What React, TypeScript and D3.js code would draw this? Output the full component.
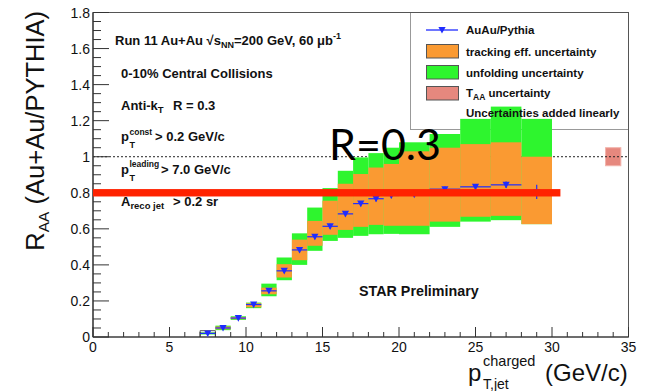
import React from "react";
import * as d3 from "d3";

const W = 652;
const H = 391;

// Jet pT bins (GeV/c)
const binLo = [7, 8, 9, 10, 11, 12, 13, 14, 15, 16, 17, 18, 19, 20, 22, 24, 26, 28];
const binHi = [8, 9, 10, 11, 12, 13, 14, 15, 16, 17, 18, 19, 20, 22, 24, 26, 28, 30];

// R_AA central values and statistical errors
const raa = [0.02, 0.05, 0.105, 0.18, 0.256, 0.367, 0.483, 0.556, 0.614, 0.683, 0.74, 0.767, 0.785, 0.79, 0.82, 0.833, 0.844, 0.805];
const statErr = [0.005, 0.006, 0.008, 0.01, 0.012, 0.012, 0.014, 0.014, 0.014, 0.014, 0.015, 0.015, 0.016, 0.012, 0.015, 0.015, 0.018, 0.04];

// tracking efficiency uncertainty band
const trackLo = [0.017, 0.043, 0.099, 0.165, 0.237, 0.33, 0.426, 0.506, 0.567, 0.594, 0.611, 0.622, 0.617, 0.617, 0.64, 0.667, 0.672, 0.626];
const trackHi = [0.023, 0.058, 0.111, 0.187, 0.274, 0.404, 0.54, 0.644, 0.756, 0.85, 0.904, 0.94, 0.96, 1.03, 1.05, 1.07, 1.08, 1.0];

// tracking + unfolding uncertainty band (added linearly)
const unfoldLo = [0.014, 0.038, 0.095, 0.16, 0.226, 0.315, 0.4, 0.478, 0.533, 0.55, 0.561, 0.57, 0.572, 0.57, 0.611, 0.64, 0.648, 0.626];
const unfoldHi = [0.026, 0.063, 0.115, 0.191, 0.296, 0.441, 0.575, 0.718, 0.826, 0.922, 0.996, 1.02, 1.05, 1.08, 1.126, 1.21, 1.278, 1.21];

// lowest-bin outline height
const firstBinOutline = 0.035;

// T_AA normalisation uncertainty box
const taaX = [33.5, 34.5];
const taaY = [0.95, 1.05];

// highlight bar at R_AA = 0.8
const highlightY = 0.8;
const highlightX = [0, 30.55];

// "STAR Preliminary" anchor in data coordinates
const prelimPos = [21.3, 0.23];

const xTicks = [0, 5, 10, 15, 20, 25, 30, 35];
const xTickLabels = ["0", "5", "10", "15", "20", "25", "30", "35"];
const yTicks = [0, 0.2, 0.4, 0.6, 0.8, 1.0, 1.2, 1.4, 1.6, 1.8];
const yTickLabels = ["0", "0.2", "0.4", "0.6", "0.8", "1", "1.2", "1.4", "1.6", "1.8"];

const GREEN = "#2ef52e";
const ORANGE = "#fa9a32";
const BLUE = "#1f2cff";
const SALMON = "#e6887e";
const RED = "#ff2200";
const AXIS = "#333";
const FONT = "'Liberation Sans', Arial, Helvetica, sans-serif";

export default function App() {
  const x = d3.scaleLinear().domain([0, 35]).range([93, 628.5]);
  const y = d3.scaleLinear().domain([0, 1.8]).range([337, 12.5]);

  const xMinor = d3.range(0, 35.001, 1);
  const yMinor = d3.range(0, 1.8001, 0.05);

  const bins = binLo.map((lo, i) => ({
    lo,
    hi: binHi[i],
    c: (lo + binHi[i]) / 2,
    v: raa[i],
    e: statErr[i],
    tLo: trackLo[i],
    tHi: trackHi[i],
    uLo: unfoldLo[i],
    uHi: unfoldHi[i],
  }));

  const marker = "M-3.6,-3 L3.6,-3 L0,3.6 Z";

  const legendRows = [
    { label: "tracking eff. uncertainty", fill: ORANGE },
    { label: "unfolding uncertainty", fill: GREEN },
  ];

  return (
    <svg
      width={W}
      height={H}
      viewBox={`0 0 ${W} ${H}`}
      style={{ position: "absolute", left: 0, top: 0, background: "#fff" }}
      fontFamily={FONT}
    >
      <rect x={0} y={0} width={W} height={H} fill="#fff" />

      {/* legend frame (entries drawn later, above the bands) */}
      <rect x={410.5} y={12.5} width={218} height={117} fill="none" stroke="#999" strokeWidth={1} />

      {/* T_AA box */}
      <rect
        x={x(taaX[0])}
        y={y(taaY[1])}
        width={x(taaX[1]) - x(taaX[0])}
        height={y(taaY[0]) - y(taaY[1])}
        fill={SALMON}
        stroke="#f2b3ab"
        strokeWidth={1}
      />

      {/* unity reference */}
      <line
        x1={x(0)}
        x2={x(35)}
        y1={y(1)}
        y2={y(1)}
        stroke="#222"
        strokeWidth={1}
        strokeDasharray="2,2"
      />

      {/* uncertainty bands */}
      {bins.map((b, i) => (
        <rect
          key={`u${i}`}
          x={x(b.lo)}
          y={y(b.uHi)}
          width={x(b.hi) - x(b.lo)}
          height={y(b.uLo) - y(b.uHi)}
          fill={GREEN}
        />
      ))}
      {bins.map((b, i) => (
        <rect
          key={`t${i}`}
          x={x(b.lo)}
          y={y(b.tHi)}
          width={x(b.hi) - x(b.lo)}
          height={y(b.tLo) - y(b.tHi)}
          fill={ORANGE}
        />
      ))}
      <path
        d={`M${x(binLo[0])},${y(0)} V${y(firstBinOutline)} H${x(binHi[0])} V${y(0)}`}
        fill="none"
        stroke="#555"
        strokeWidth={1}
      />

      {/* frame and axes */}
      <rect
        x={x(0)}
        y={y(1.8)}
        width={x(35) - x(0)}
        height={y(0) - y(1.8)}
        fill="none"
        stroke="#555"
        strokeWidth={1}
      />
      <line x1={x(0)} x2={x(0)} y1={y(0)} y2={y(1.8)} stroke={AXIS} strokeWidth={1.2} />
      <line x1={x(0)} x2={x(35)} y1={y(0)} y2={y(0)} stroke={AXIS} strokeWidth={1.2} />
      {xMinor.map((t) => {
        const major = Math.abs(t % 5) < 1e-6;
        return (
          <line
            key={`xm${t}`}
            x1={x(t)}
            x2={x(t)}
            y1={y(0)}
            y2={y(0) - (major ? 10 : 5)}
            stroke={AXIS}
            strokeWidth={1}
          />
        );
      })}
      {yMinor.map((t, i) => {
        const major = i % 4 === 0;
        return (
          <line
            key={`ym${i}`}
            x1={x(0)}
            x2={x(0) + (major ? 16 : 8)}
            y1={y(t)}
            y2={y(t)}
            stroke={AXIS}
            strokeWidth={1}
          />
        );
      })}
      {xTicks.map((t, i) => (
        <text key={`xl${t}`} x={x(t)} y={352} fontSize={14} textAnchor="middle" fill="#111">
          {xTickLabels[i]}
        </text>
      ))}
      {yTicks.map((t, i) => (
        <text key={`yl${t}`} x={90} y={y(t) + 5} fontSize={14} textAnchor="end" fill="#111">
          {yTickLabels[i]}
        </text>
      ))}

      {/* data points */}
      {bins.map((b, i) => (
        <g key={`p${i}`} stroke={BLUE} strokeWidth={1.2}>
          <line x1={x(b.lo)} x2={x(b.hi)} y1={y(b.v)} y2={y(b.v)} />
          <line x1={x(b.c)} x2={x(b.c)} y1={y(b.v - b.e)} y2={y(b.v + b.e)} />
          <path d={marker} transform={`translate(${x(b.c)},${y(b.v)})`} fill={BLUE} stroke="none" />
        </g>
      ))}

      {/* legend entries */}
      <g fontSize={11.5} fontWeight="bold" fill="#111">
        <line x1={426} x2={458} y1={30} y2={30} stroke={BLUE} strokeWidth={1.3} />
        <path d={marker} transform="translate(442,30)" fill={BLUE} />
        <text x={466} y={34}>AuAu/Pythia</text>
        {legendRows.map((r, i) => (
          <g key={r.label}>
            <rect x={426.5} y={44.5 + i * 21} width={32} height={13.5} fill={r.fill} stroke="#555" strokeWidth={1} />
            <text x={466} y={55.5 + i * 21}>{r.label}</text>
          </g>
        ))}
        <rect x={426.5} y={86.5} width={32} height={13.5} fill={SALMON} stroke="#555" strokeWidth={1} />
        <text x={466} y={97}>
          T
          <tspan fontSize={8.5} dy={3}>AA</tspan>
          <tspan dy={-3}> uncertainty</tspan>
        </text>
        <text x={466} y={117}>Uncertainties added linearly</text>
      </g>

      {/* run / selection labels */}
      <g fontSize={13} fontWeight="bold" fill="#111">
        <text x={115} y={45}>
          Run 11 Au+Au √s
          <tspan fontSize={9} dy={3}>NN</tspan>
          <tspan dy={-3}>=200 GeV, 60 μb</tspan>
          <tspan fontSize={9} dy={-6}>-1</tspan>
        </text>
        <text x={121} y={78}>0-10% Central Collisions</text>
        <text x={121} y={110}>
          Anti-k
          <tspan fontSize={9.5} dy={3}>T</tspan>
        </text>
        <text x={173} y={110}>R = 0.3</text>

        <text x={121} y={141}>p</text>
        <text x={129.5} y={135} fontSize={8.5}>const</text>
        <text x={129.5} y={148} fontSize={9}>T</text>
        <text x={155} y={141}>&gt; 0.2 GeV/c</text>

        <text x={121} y={174}>p</text>
        <text x={129.5} y={167} fontSize={8.5}>leading</text>
        <text x={129.5} y={181} fontSize={9}>T</text>
        <text x={161} y={174}>&gt; 7.0 GeV/c</text>

        <text x={121} y={206}>
          A
          <tspan fontSize={9.5} dy={3}>reco jet</tspan>
        </text>
        <text x={173} y={206}>&gt; 0.2 sr</text>

        <text x={x(prelimPos[0])} y={y(prelimPos[1])} fontSize={14.3} textAnchor="middle">
          STAR Preliminary
        </text>
      </g>

      {/* axis titles */}
      <text transform="translate(44,11) rotate(-90)" textAnchor="end" fontSize={25.5} fill="#111">
        R
        <tspan fontSize={15.5} dy={5}>AA</tspan>
        <tspan dy={-5}> (Au+Au/PYTHIA)</tspan>
      </text>
      <g fill="#111">
        <text x={468} y={381} fontSize={24}>p</text>
        <text x={483} y={366} fontSize={14.5}>charged</text>
        <text x={483} y={389} fontSize={14}>T,jet</text>
        <text x={545} y={381} fontSize={24}>(GeV/c)</text>
      </g>

      {/* highlight bar and jet radius label */}
      <rect
        x={x(highlightX[0])}
        y={y(highlightY) - 3.7}
        width={x(highlightX[1]) - x(highlightX[0])}
        height={7.4}
        fill={RED}
      />
      <text x={329} y={160} fontSize={43} fontFamily="Lato, 'Noto Sans', sans-serif" fill="#000">
        R=0.3
      </text>
    </svg>
  );
}
